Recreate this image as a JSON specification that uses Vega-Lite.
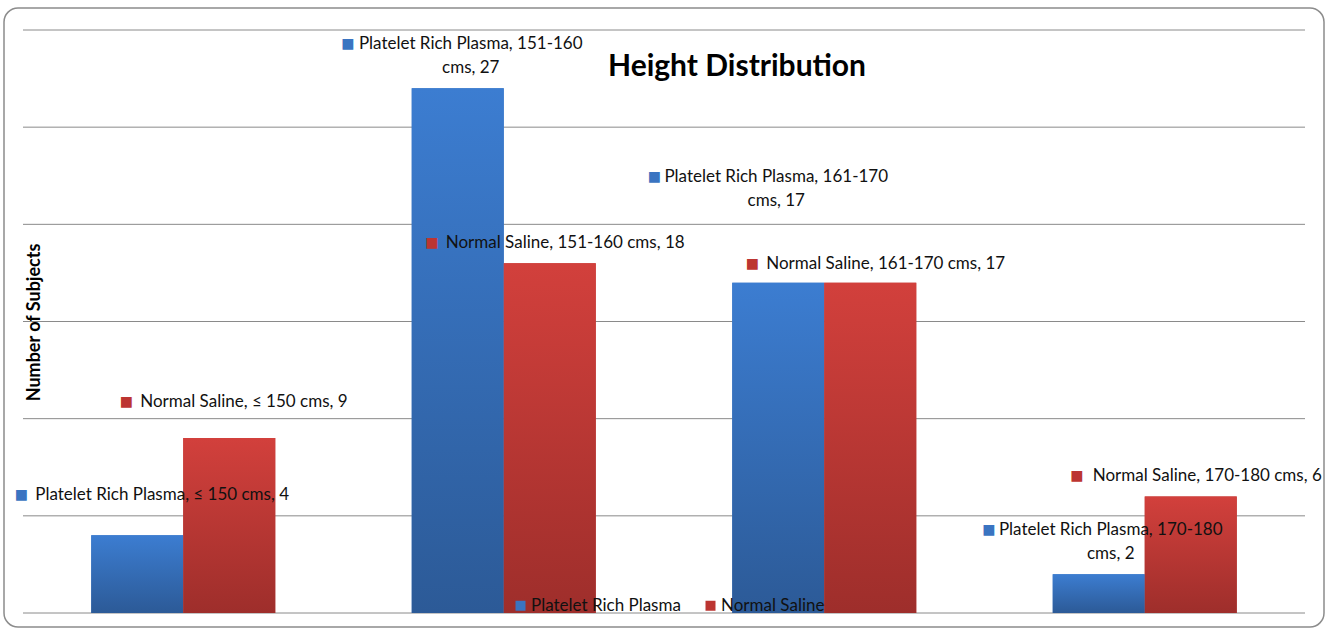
{
  "$schema": "https://vega.github.io/schema/vega-lite/v6.json",
  "description": "Height distribution of subjects in the Platelet Rich Plasma and Normal Saline groups",
  "width": 1320,
  "height": 619,
  "autosize": {"type": "none"},
  "padding": {"left": 4, "top": 8, "right": 3, "bottom": 3},
  "background": "#ffffff",
  "config": {
    "view": {"stroke": "#8c8c8c", "strokeWidth": 1.5, "cornerRadius": 14},
    "text": {"font": "Lato", "fontSize": 17, "color": "#111111"}
  },
  "title": {
    "text": "Height Distribution",
    "font": "Lato",
    "fontSize": 30,
    "fontWeight": "bold",
    "color": "#000000",
    "anchor": "middle",
    "baseline": "alphabetic",
    "offset": 0,
    "dx": 73,
    "dy": 98
  },
  "datasets": {
    "subjects": [
      {"height": "≤ 150 cms", "series": "Platelet Rich Plasma", "count": 4},
      {"height": "≤ 150 cms", "series": "Normal Saline", "count": 9},
      {"height": "151-160 cms", "series": "Platelet Rich Plasma", "count": 27},
      {"height": "151-160 cms", "series": "Normal Saline", "count": 18},
      {"height": "161-170 cms", "series": "Platelet Rich Plasma", "count": 17},
      {"height": "161-170 cms", "series": "Normal Saline", "count": 17},
      {"height": "170-180 cms", "series": "Platelet Rich Plasma", "count": 2},
      {"height": "170-180 cms", "series": "Normal Saline", "count": 6}
    ],
    "gridlines": [
      {"level": 0}, {"level": 5}, {"level": 10}, {"level": 15},
      {"level": 20}, {"level": 25}, {"level": 30}
    ]
  },
  "data": {"name": "subjects"},
  "layer": [
    {
      "data": {"name": "gridlines"},
      "mark": {"type": "rule", "color": "#8a8a8a", "strokeWidth": 1},
      "encoding": {
        "x": {
          "datum": "≤ 150 cms",
          "type": "nominal",
          "bandPosition": 0,
          "scale": {"domain": ["≤ 150 cms", "151-160 cms", "161-170 cms", "170-180 cms"], "range": [19, 1301], "paddingInner": 0, "paddingOuter": 0},
          "axis": null
        },
        "x2": {"datum": "170-180 cms", "bandPosition": 1},
        "y": {
          "field": "level",
          "type": "quantitative",
          "scale": {"domain": [0, 30], "range": [605, 22], "nice": false},
          "axis": {
            "grid": false, "labels": false, "ticks": false, "domain": false,
            "title": "Number of Subjects",
            "titleFont": "Lato", "titleFontSize": 18, "titleFontWeight": "bold", "titleColor": "#000000",
            "titleAngle": 270, "titleAlign": "center", "titleBaseline": "alphabetic",
            "titleX": 35, "titleY": 314
          }
        }
      }
    },
    {
      "transform": [
        {"calculate": "datum.series + ', ' + datum.height + ', ' + datum.count", "as": "label"},
        {"calculate": "datum.series + ', ' + replace(datum.height, ' cms', '') + '\\ncms, ' + datum.count", "as": "label2"}
      ],
      "encoding": {
        "x": {
          "field": "height",
          "type": "nominal",
          "scale": {"domain": ["≤ 150 cms", "151-160 cms", "161-170 cms", "170-180 cms"], "range": [19, 1301], "paddingInner": 0, "paddingOuter": 0},
          "axis": null
        },
        "xOffset": {
          "field": "series",
          "type": "nominal",
          "scale": {"domain": ["Platelet Rich Plasma", "Normal Saline"], "paddingInner": 0, "paddingOuter": 0.7418}
        },
        "y": {
          "field": "count",
          "type": "quantitative",
          "scale": {"domain": [0, 30], "range": [605, 22], "nice": false},
          "axis": {
            "grid": false, "labels": false, "ticks": false, "domain": false,
            "title": "Number of Subjects",
            "titleFont": "Lato", "titleFontSize": 18, "titleFontWeight": "bold", "titleColor": "#000000",
            "titleAngle": 270, "titleAlign": "center", "titleBaseline": "alphabetic",
            "titleX": 35, "titleY": 314
          }
        }
      },
      "layer": [
        {
          "mark": {"type": "bar"},
          "encoding": {
            "color": {
              "field": "series",
              "type": "nominal",
              "scale": {"domain": ["Platelet Rich Plasma", "Normal Saline"], "range": ["#3a74c1", "#bc3531"]},
              "legend": {
                "orient": "none", "legendX": 508, "legendY": 589,
                "direction": "horizontal", "title": null,
                "symbolType": "square", "symbolSize": 100, "symbolStrokeWidth": 0,
                "labelFont": "Lato", "labelFontSize": 17, "labelColor": "#111111",
                "labelOffset": 2, "columnPadding": 21, "padding": 0, "labelLimit": 300
              }
            }
          }
        },
        {
          "transform": [{"filter": "datum.series === 'Platelet Rich Plasma'"}],
          "mark": {
            "type": "bar",
            "fill": {"gradient": "linear", "x1": 0, "y1": 0, "x2": 0, "y2": 1,
              "stops": [{"offset": 0, "color": "#3c7dd1"}, {"offset": 1, "color": "#2c5a97"}]}
          }
        },
        {
          "transform": [{"filter": "datum.series === 'Normal Saline'"}],
          "mark": {
            "type": "bar",
            "fill": {"gradient": "linear", "x1": 0, "y1": 0, "x2": 0, "y2": 1,
              "stops": [{"offset": 0, "color": "#d2403c"}, {"offset": 1, "color": "#9e2e2b"}]}
          }
        },

        {"transform": [{"filter": "datum.series === 'Platelet Rich Plasma' && datum.height === '≤ 150 cms'"}],
         "mark": {"type": "text", "text": "■", "font": "DejaVu Sans", "fontSize": 14, "align": "center", "baseline": "middle", "dx": -116, "dy": -40, "color": "#3a74c1"}},
        {"transform": [{"filter": "datum.series === 'Platelet Rich Plasma' && datum.height === '≤ 150 cms'"}],
         "mark": {"type": "text", "align": "left", "baseline": "middle", "dx": -102, "dy": -40},
         "encoding": {"text": {"field": "label", "type": "nominal"}}},

        {"transform": [{"filter": "datum.series === 'Normal Saline' && datum.height === '≤ 150 cms'"}],
         "mark": {"type": "text", "text": "■", "font": "DejaVu Sans", "fontSize": 14, "align": "center", "baseline": "middle", "dx": -103, "dy": -36, "color": "#bc3531"}},
        {"transform": [{"filter": "datum.series === 'Normal Saline' && datum.height === '≤ 150 cms'"}],
         "mark": {"type": "text", "align": "left", "baseline": "middle", "dx": -89, "dy": -36},
         "encoding": {"text": {"field": "label", "type": "nominal"}}},

        {"transform": [{"filter": "datum.series === 'Platelet Rich Plasma' && datum.height === '151-160 cms'"}],
         "mark": {"type": "text", "text": "■", "font": "DejaVu Sans", "fontSize": 14, "align": "center", "baseline": "middle", "dx": -110, "dy": -44, "color": "#3a74c1"}},
        {"transform": [{"filter": "datum.series === 'Platelet Rich Plasma' && datum.height === '151-160 cms'"}],
         "mark": {"type": "text", "align": "center", "baseline": "middle", "lineBreak": "\n", "lineHeight": 24, "dx": 13, "dy": -44},
         "encoding": {"text": {"field": "label2", "type": "nominal"}}},

        {"transform": [{"filter": "datum.series === 'Normal Saline' && datum.height === '151-160 cms'"}],
         "mark": {"type": "text", "text": "■", "font": "DejaVu Sans", "fontSize": 14, "align": "center", "baseline": "middle", "dx": -118, "dy": -20, "color": "#bc3531"}},
        {"transform": [{"filter": "datum.series === 'Normal Saline' && datum.height === '151-160 cms'"}],
         "mark": {"type": "text", "align": "left", "baseline": "middle", "dx": -104, "dy": -20},
         "encoding": {"text": {"field": "label", "type": "nominal"}}},

        {"transform": [{"filter": "datum.series === 'Platelet Rich Plasma' && datum.height === '161-170 cms'"}],
         "mark": {"type": "text", "text": "■", "font": "DejaVu Sans", "fontSize": 14, "align": "center", "baseline": "middle", "dx": -124, "dy": -106, "color": "#3a74c1"}},
        {"transform": [{"filter": "datum.series === 'Platelet Rich Plasma' && datum.height === '161-170 cms'"}],
         "mark": {"type": "text", "align": "center", "baseline": "middle", "lineBreak": "\n", "lineHeight": 24, "dx": -2, "dy": -106},
         "encoding": {"text": {"field": "label2", "type": "nominal"}}},

        {"transform": [{"filter": "datum.series === 'Normal Saline' && datum.height === '161-170 cms'"}],
         "mark": {"type": "text", "text": "■", "font": "DejaVu Sans", "fontSize": 14, "align": "center", "baseline": "middle", "dx": -118, "dy": -19, "color": "#bc3531"}},
        {"transform": [{"filter": "datum.series === 'Normal Saline' && datum.height === '161-170 cms'"}],
         "mark": {"type": "text", "align": "left", "baseline": "middle", "dx": -104, "dy": -19},
         "encoding": {"text": {"field": "label", "type": "nominal"}}},

        {"transform": [{"filter": "datum.series === 'Platelet Rich Plasma' && datum.height === '170-180 cms'"}],
         "mark": {"type": "text", "text": "■", "font": "DejaVu Sans", "fontSize": 14, "align": "center", "baseline": "middle", "dx": -110, "dy": -44, "color": "#3a74c1"}},
        {"transform": [{"filter": "datum.series === 'Platelet Rich Plasma' && datum.height === '170-180 cms'"}],
         "mark": {"type": "text", "align": "center", "baseline": "middle", "lineBreak": "\n", "lineHeight": 24, "dx": 12, "dy": -44},
         "encoding": {"text": {"field": "label2", "type": "nominal"}}},

        {"transform": [{"filter": "datum.series === 'Normal Saline' && datum.height === '170-180 cms'"}],
         "mark": {"type": "text", "text": "■", "font": "DejaVu Sans", "fontSize": 14, "align": "center", "baseline": "middle", "dx": -114, "dy": -20, "color": "#bc3531"}},
        {"transform": [{"filter": "datum.series === 'Normal Saline' && datum.height === '170-180 cms'"}],
         "mark": {"type": "text", "align": "left", "baseline": "middle", "dx": -98, "dy": -20},
         "encoding": {"text": {"field": "label", "type": "nominal"}}}
      ]
    }
  ]
}
